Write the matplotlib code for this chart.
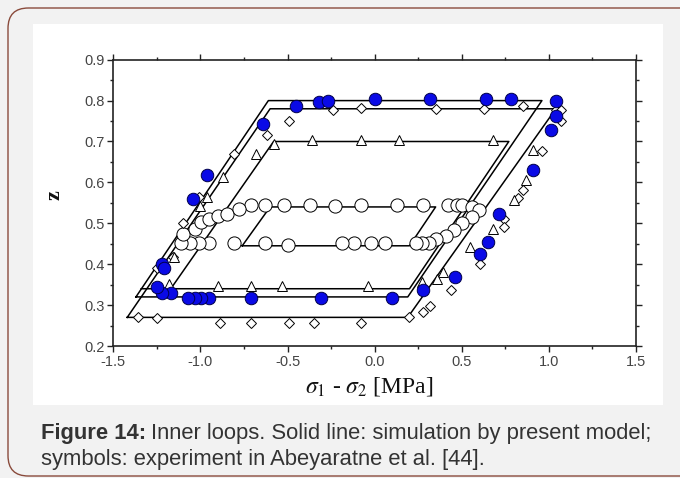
import matplotlib.pyplot as plt
from matplotlib.patches import FancyBboxPatch, Rectangle
from matplotlib.ticker import MultipleLocator

# simulated loops (corner points, stress difference vs. z)
loop_a_x = [-1.42, 0.19, 1.04, -0.60, -1.42]
loop_a_z = [0.27, 0.27, 0.78, 0.78, 0.27]
loop_b_x = [-1.37, 0.19, 0.96, -0.61, -1.37]
loop_b_z = [0.32, 0.32, 0.80, 0.80, 0.32]
loop_c_x = [-1.34, 0.20, 0.77, -0.58, -1.17]
loop_c_z = [0.34, 0.34, 0.70, 0.70, 0.34]
loop_d_x = [-0.76, 0.20, 0.35, -0.60, -0.76]
loop_d_z = [0.445, 0.445, 0.54, 0.54, 0.445]

# experiment, filled circles
filled_x = [-0.45, -0.32, -0.27, 0.00, 0.32, 0.64, 0.78, 1.04, 1.04, 1.01,
            0.91, 0.716, 0.65, 0.605, 0.46, 0.28,
            0.10, -0.31, -0.71, -0.95, -0.995, -1.03, -1.07, -1.17, -1.22, -1.25,
            -1.22, -1.21, -1.04, -0.96, -0.64]
filled_z = [0.786, 0.797, 0.800, 0.804, 0.804, 0.804, 0.804, 0.800, 0.762, 0.728,
            0.630, 0.523, 0.454, 0.426, 0.368, 0.336,
            0.318, 0.318, 0.318, 0.318, 0.318, 0.318, 0.318, 0.330, 0.330, 0.344,
            0.401, 0.390, 0.560, 0.617, 0.744]

# experiment, diamonds
diamond_x = [-0.49, -0.24, -0.08, 0.35, 0.63, 0.85, 1.04, 1.07, 1.07,
             0.96, 0.85, 0.82, 0.74, 0.74, 0.605, 0.44, 0.32, 0.28,
             0.20, -0.08, -0.35, -0.49, -0.71, -0.89, -1.25, -1.36,
             -1.25, -1.16, -1.10, -1.01, -0.81, -0.62]
diamond_z = [0.750, 0.778, 0.782, 0.780, 0.780, 0.787, 0.776, 0.776, 0.750,
             0.677, 0.582, 0.562, 0.510, 0.490, 0.400, 0.336, 0.299, 0.283,
             0.272, 0.256, 0.256, 0.256, 0.256, 0.256, 0.268, 0.272,
             0.390, 0.417, 0.500, 0.564, 0.669, 0.715]

# experiment, triangles
tri_x = [-0.58, -0.36, -0.08, 0.14, 0.68,
         0.91, 0.87, 0.80, 0.68, 0.55, 0.39, 0.36, 0.27,
         -0.04, -0.53, -0.71, -0.90,
         -1.18, -1.15, -1.00, -0.96, -0.87, -0.68]
tri_z = [0.695, 0.704, 0.704, 0.704, 0.704,
         0.678, 0.605, 0.556, 0.487, 0.442, 0.382, 0.364, 0.356,
         0.346, 0.346, 0.346, 0.346,
         0.352, 0.418, 0.543, 0.564, 0.613, 0.670]

# experiment, open circles
open_x = [-0.71, -0.63, -0.52, -0.37, -0.23, -0.08, 0.13, 0.28, 0.42, 0.47, 0.50, 0.56,
          0.60, 0.56, 0.50, 0.455, 0.41, 0.35,
          0.31, 0.27, 0.24, 0.06, -0.02, -0.12, -0.19, -0.50, -0.63, -0.81, -0.95,
          -1.01, -1.06, -1.11,
          -1.10, -1.03, -0.995, -0.95, -0.90, -0.85, -0.78]
open_z = [0.545, 0.545, 0.545, 0.544, 0.542, 0.545, 0.545, 0.545, 0.545, 0.545, 0.545, 0.540,
          0.533, 0.515, 0.500, 0.483, 0.470, 0.462,
          0.452, 0.452, 0.452, 0.452, 0.452, 0.452, 0.452, 0.446, 0.452, 0.452, 0.452,
          0.452, 0.452, 0.452,
          0.475, 0.487, 0.503, 0.510, 0.517, 0.523, 0.536]

W, H = 680, 478
fig = plt.figure(figsize=(W / 100, H / 100), dpi=100)
fig.patch.set_facecolor('#f2f2f2')

# card outline and white plot panel (kept behind the axes)
card = FancyBboxPatch((8 / W, 2 / H), 720 / W, 468 / H,
                      boxstyle='round,pad=0,rounding_size=0.03',
                      transform=fig.transFigure, facecolor='#f2f2f2',
                      edgecolor='#8a4b3c', linewidth=1.0, mutation_aspect=W / H,
                      zorder=-3)
fig.patches.append(card)
fig.patches.append(Rectangle((33 / W, 1 - 405 / H), 630 / W, 381 / H,
                             transform=fig.transFigure, facecolor='white',
                             edgecolor='none', zorder=-2))

ax = fig.add_axes([113.3 / W, 1 - 346 / H, 522.7 / W, 286.3 / H])
ax.set_facecolor('white')

for lx, lz in [(loop_a_x, loop_a_z), (loop_b_x, loop_b_z),
               (loop_c_x, loop_c_z), (loop_d_x, loop_d_z)]:
    ax.plot(lx, lz, color='black', lw=1.1, zorder=2)

ax.plot(open_x, open_z, 'o', ms=9.5, mfc='white', mec='black', mew=0.7, zorder=3)
ax.plot(diamond_x, diamond_z, 'D', ms=5.3, mfc='white', mec='black', mew=0.7, zorder=3)
ax.plot(tri_x, tri_z, '^', ms=6.8, mfc='white', mec='black', mew=0.7, zorder=3)
ax.plot(filled_x, filled_z, 'o', ms=9, mfc='#0a0ae6', mec='#00004a', mew=0.7, zorder=4)

ax.set_xlim(-1.5, 1.5)
ax.set_ylim(0.2, 0.9)
ax.xaxis.set_major_locator(MultipleLocator(0.5))
ax.xaxis.set_minor_locator(MultipleLocator(0.25))
ax.yaxis.set_major_locator(MultipleLocator(0.1))
ax.yaxis.set_minor_locator(MultipleLocator(0.05))
ax.xaxis.set_major_formatter(plt.FormatStrFormatter('%.1f'))
ax.yaxis.set_major_formatter(plt.FormatStrFormatter('%.1f'))

for s in ax.spines.values():
    s.set_linewidth(1.2)
    s.set_color('#222222')
ax.tick_params(which='both', direction='out', top=True, right=True,
               color='#222222', width=1.0)
ax.tick_params(which='major', length=4, pad=2.5, labelsize=10.5,
               labelcolor='#444444')
ax.tick_params(which='minor', length=2.5)
for lab in ax.get_xticklabels() + ax.get_yticklabels():
    lab.set_fontfamily('Liberation Sans')

plt.rcParams['mathtext.fontset'] = 'stix'
fig.text(369 / W, 1 - 386 / H, r'$\sigma_1$ - $\sigma_2$ [MPa]',
         family='Liberation Serif', fontsize=17, ha='center', va='center',
         color='#111111')
fig.text(55 / W, 1 - 195 / H, 'z', family='Liberation Serif',
         fontweight='bold', fontsize=16, rotation=90, ha='center', va='center',
         color='#111111')

# caption below the panel
cap = dict(family='Liberation Sans', fontsize=15.8, color='#333333', va='center')
bold = fig.text(41 / W, 1 - 433 / H, 'Figure 14:', fontweight='bold', **cap)
r = fig.canvas.get_renderer()
bb = bold.get_window_extent(renderer=r)
fig.text(bb.x1 / W + 5 / W, 1 - 433 / H,
         'Inner loops. Solid line: simulation by present model;', **cap)
fig.text(41 / W, 1 - 460 / H,
         'symbols: experiment in Abeyaratne et al. [44].', **cap)

fig.savefig('out.png', dpi=100, facecolor=fig.get_facecolor())
